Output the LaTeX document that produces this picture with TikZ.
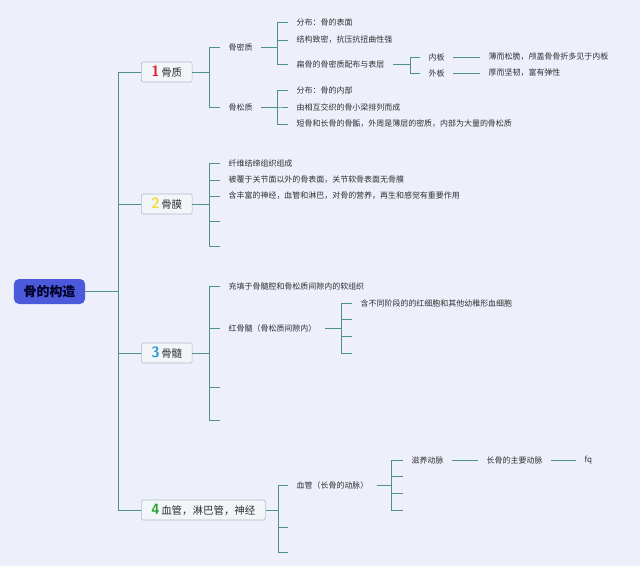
\documentclass[tikz,border=0pt]{standalone}
\usepackage{fontspec}
\newfontfamily\cjk{Noto Sans CJK SC}
\usetikzlibrary{positioning}
\definecolor{bgcol}{HTML}{EDF0FB}
\definecolor{linecol}{HTML}{4F8F8C}
\definecolor{rootcol}{HTML}{4A5ADB}
\definecolor{boxfill}{HTML}{F3F6F8}
\definecolor{boxline}{HTML}{A9BDC8}
\definecolor{txtcol}{HTML}{303030}
\definecolor{numa}{HTML}{E0202E}
\definecolor{numb}{HTML}{F0DC3C}
\definecolor{numc}{HTML}{2A9AD8}
\definecolor{numd}{HTML}{26A32C}
\newcommand\bignum[2]{{\color{#1}\fontsize{15}{15}\selectfont\bfseries\sffamily #2}}

\begin{document}
\begin{tikzpicture}[x=1bp,y=-1bp,
	link/.style={draw=linecol,line width=0.9pt},
	leaf/.style={anchor=west,inner xsep=8.5bp,inner ysep=1bp,text=txtcol,font=\cjk\fontsize{8}{9}\selectfont},
	topic/.style={anchor=west,draw=boxline,fill=boxfill,line width=0.6pt,rounded corners=1.5bp,
		inner xsep=10bp,minimum height=20bp,text=txtcol,font=\cjk\fontsize{10.5}{12}\selectfont}]
	\fill[bgcol] (0,0) rectangle (640,566);
	\useasboundingbox (0,0) rectangle (640,566);

	% root and main topics
	\node[fill=rootcol,rounded corners=5bp,minimum width=71bp,minimum height=25bp,inner sep=0pt,
		font=\cjk\bfseries\fontsize{13}{14}\selectfont,text=black!85!blue] (root) at (49.5,291.5) {骨的构造};
	\node[topic] (b1) at (141,72) {\bignum{numa}{1}\,骨质};
	\node[topic] (b2) at (141,204) {\bignum{numb}{2}\,骨膜};
	\node[topic] (b3) at (141,353) {\bignum{numc}{3}\,骨髓};
	\node[topic] (b4) at (141,510) {\bignum{numd}{4}\,血管，淋巴管，神经};
	\path[link]
	(root.east) -- (118,291.5) |- (b1.west)
	(root.east) -- (118,291.5) |- (b2.west)
	(root.east) -- (118,291.5) |- (b3.west)
	(root.east) -- (118,291.5) |- (b4.west);

	% 1 骨质
	\node[leaf] (mi) at (220,47) {骨密质};
	\node[leaf] (so) at (220,107) {骨松质};
	\node[leaf] (mi1) at (288,22) {分布：骨的表面};
	\node[leaf] (mi2) at (288,40) {结构致密，抗压抗扭曲性强};
	\node[leaf] (mi3) at (288,64) {扁骨的骨密质配布与表层};
	\node[leaf] (nb) at (420,57) {内板};
	\node[leaf] (wb) at (420,73) {外板};
	\node[leaf] (nb1) at (480,57) {薄而松脆，颅盖骨骨折多见于内板};
	\node[leaf] (wb1) at (480,73) {厚而坚韧，富有弹性};
	\node[leaf] (so1) at (288,90) {分布：骨的内部};
	\node[leaf] (so2) at (288,107) {由相互交织的骨小梁排列而成};
	\node[leaf] (so3) at (288,124) {短骨和长骨的骨骺，外周是薄层的密质，内部为大量的骨松质};
	\path[link]
	(b1.east) -- (209,72) |- (mi.west)
	(b1.east) -- (209,72) |- (so.west)
	(mi.east) -- (277,47) |- (mi1.west)
	(mi.east) -- (277,47) |- (mi2.west)
	(mi.east) -- (277,47) |- (mi3.west)
	(mi3.east) -- (410,64) |- (nb.west)
	(mi3.east) -- (410,64) |- (wb.west)
	(nb.east) -- (nb1.west)
	(wb.east) -- (wb1.west)
	(so.east) -- (277,107) |- (so1.west)
	(so.east) -- (277,107) |- (so2.west)
	(so.east) -- (277,107) |- (so3.west);

	% 2 骨膜
	\node[leaf] (p1) at (220,163) {纤维结缔组织组成};
	\node[leaf] (p2) at (220,180) {被覆于关节面以外的骨表面，关节软骨表面无骨膜};
	\node[leaf] (p3) at (220,196) {含丰富的神经，血管和淋巴，对骨的营养，再生和感觉有重要作用};
	\coordinate (p4) at (220,221);
	\coordinate (p5) at (220,246);
	\path[link]
	(b2.east) -- (209,204) |- (p1.west)
	(b2.east) -- (209,204) |- (p2.west)
	(b2.east) -- (209,204) |- (p3.west)
	(b2.east) -- (209,204) |- (p4)
	(b2.east) -- (209,204) |- (p5);

	% 3 骨髓
	\node[leaf] (r1) at (220,286) {充填于骨髓腔和骨松质间隙内的软组织};
	\node[leaf] (r2) at (220,328) {红骨髓（骨松质间隙内）};
	\coordinate (r3) at (220,387);
	\coordinate (r4) at (220,420);
	\node[leaf] (h1) at (352,303) {含不同阶段的的红细胞和其他幼稚形血细胞};
	\coordinate (h2) at (352,319);
	\coordinate (h3) at (352,336);
	\coordinate (h4) at (352,353);
	\path[link]
	(b3.east) -- (209,353) |- (r1.west)
	(b3.east) -- (209,353) |- (r2.west)
	(b3.east) -- (209,353) |- (r3)
	(b3.east) -- (209,353) |- (r4)
	(r2.east) -- (341,328) |- (h1.west)
	(r2.east) -- (341,328) |- (h2)
	(r2.east) -- (341,328) |- (h3)
	(r2.east) -- (341,328) |- (h4);

	% 4 血管，淋巴管，神经
	\node[leaf] (v1) at (288,485) {血管（长骨的动脉）};
	\coordinate (v2) at (288,527);
	\coordinate (v3) at (288,552);
	\node[leaf] (a1) at (403,460) {滋养动脉};
	\coordinate (a2) at (403,476);
	\coordinate (a3) at (403,493);
	\coordinate (a4) at (403,510);
	\node[leaf] (a5) at (478,460) {长骨的主要动脉};
	\node[leaf] (a6) at (576,460) {fq};
	\path[link]
	(b4.east) -- (278,510) |- (v1.west)
	(b4.east) -- (278,510) |- (v2)
	(b4.east) -- (278,510) |- (v3)
	(v1.east) -- (391,485) |- (a1.west)
	(v1.east) -- (391,485) |- (a2)
	(v1.east) -- (391,485) |- (a3)
	(v1.east) -- (391,485) |- (a4)
	(a1.east) -- (a5.west)
	(a5.east) -- (a6.west);
\end{tikzpicture}
\end{document}
